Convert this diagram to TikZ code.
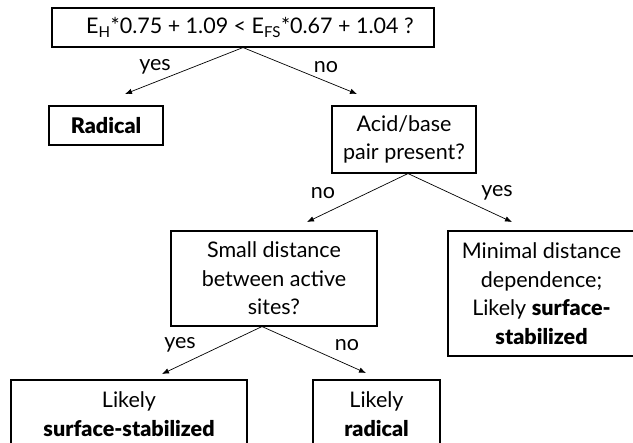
\documentclass[tikz,border=0pt]{standalone}
\usepackage{fontspec}
\setmainfont{Lato}[BoldFont={Lato Black}]
\usetikzlibrary{arrows.meta}
\begin{document}
\begin{tikzpicture}[x=1pt,y=-1pt,
  box/.style={draw,line width=1.1pt,inner sep=0pt,align=center,font=\fontsize{21.5}{28.5}\selectfont},
  lbl/.style={inner sep=0pt,font=\fontsize{21.5}{24}\selectfont},
  arr/.style={line width=0.7pt,-{Latex[length=7pt,width=5.5pt]}}]
\useasboundingbox (0,0) rectangle (633,443);
\clip (0,0) rectangle (633,443);
% boxes
\node[box,minimum width=382pt,minimum height=39pt] (top) at (243,27.5) {\hspace*{14pt}E\textsubscript{H}*0.75 + 1.09 < E\textsubscript{FS}*0.67 + 1.04 ?};
\node[box,minimum width=114pt,minimum height=39pt] (radical) at (106,125.5) {\textbf{Radical}};
\node[box,minimum width=144pt,minimum height=67pt] (acid) at (404,139.5) {Acid/base\\pair present?};
\node[box,minimum width=206pt,minimum height=95pt] (small) at (274,278.5) {Small distance\\between active\\sites?};
\node[box,minimum width=187pt,minimum height=125pt] (minimal) at (541.5,293.5) {Minimal distance\\dependence;\\Likely \textbf{surface-}\\\textbf{stabilized}};
\node[box,minimum width=236pt,minimum height=68pt] (surf) at (129,414) {Likely\\\textbf{surface-stabilized}};
\node[box,minimum width=127pt,minimum height=68pt] (rad2) at (376.5,414) {Likely\\\textbf{radical}};
% arrow end points
\coordinate (t1) at (125,94);
\coordinate (t2) at (357,94);
\coordinate (a1) at (307,222);
\coordinate (a2) at (512,222);
\coordinate (s1) at (162,374);
\coordinate (s2) at (366,373);
% connectors
\draw[arr] (top.south) -- (t1);
\draw[arr] (top.south) -- (t2);
\draw[arr] ([xshift=4pt]acid.south) -- (a1);
\draw[arr] ([xshift=4pt]acid.south) -- (a2);
\draw[arr] ([xshift=-12pt]small.south) -- (s1);
\draw[arr] ([xshift=-12pt]small.south) -- (s2);
% labels
\node[lbl] (ly1) at (155,67) {yes};
\node[lbl] (ln1) at (326,67) {no};
\node[lbl] (ln2) at (323,193) {no};
\node[lbl] (ly2) at (497,193) {yes};
\node[lbl] (ly3) at (180,345) {yes};
\node[lbl] (ln3) at (347,345) {no};
\end{tikzpicture}
\end{document}
